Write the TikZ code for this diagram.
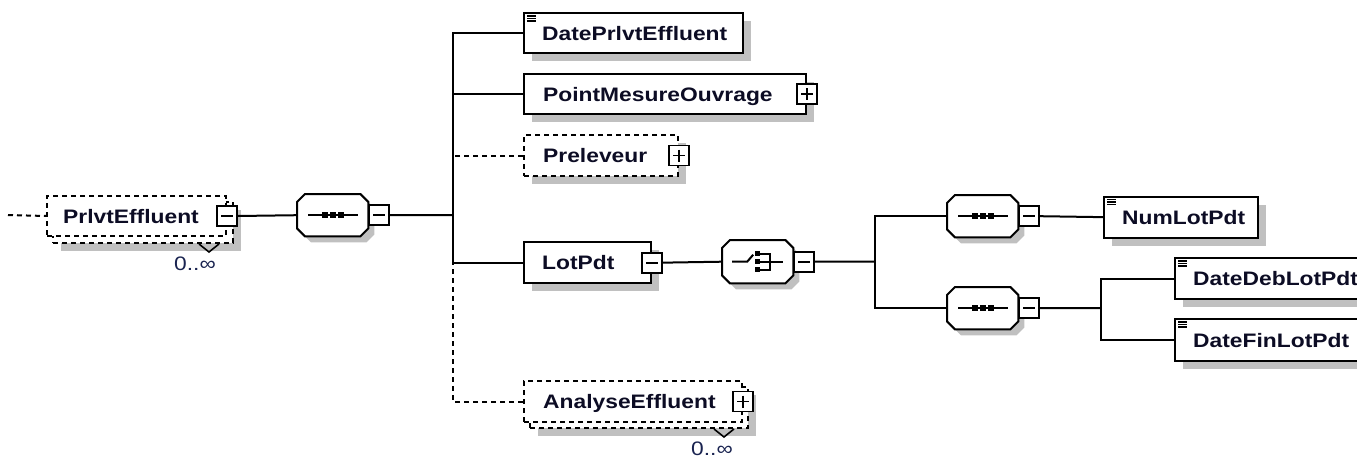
\documentclass[tikz,border=0pt]{standalone}
\usepackage{fontspec}
\newfontfamily\lbl[FakeStretch=1.17]{Liberation Sans}
\usetikzlibrary{calc,shadows}
\definecolor{shadowgray}{RGB}{192,192,192}
\definecolor{txt}{RGB}{12,12,36}
\definecolor{occ}{RGB}{25,35,80}
\newcommand\xoct[1]{%
  \fill[shadowgray] ($(#1.north west)+(14,6)$) -- ($(#1.north east)+(-2,6)$) -- ($(#1.north east)+(6,14)$) -- ($(#1.south east)+(6,-2)$) -- ($(#1.south east)+(-2,6)$) -- ($(#1.south west)+(14,6)$) -- ($(#1.south west)+(6,-2)$) -- ($(#1.north west)+(6,14)$) -- cycle;
  \draw[octo] ($(#1.north west)+(8,0)$) -- ($(#1.north east)+(-8,0)$) -- ($(#1.north east)+(0,8)$) -- ($(#1.south east)+(0,-8)$) -- ($(#1.south east)+(-8,0)$) -- ($(#1.south west)+(8,0)$) -- ($(#1.south west)+(0,-8)$) -- ($(#1.north west)+(0,8)$) -- cycle;}
\newcommand\xseq[1]{%
  \draw[conn] ($(#1.west)+(11,0)$) -- ($(#1.east)+(-10,0)$);
  \fill ($(#1.center)+(-11,-3)$) rectangle ++(6,6);
  \fill ($(#1.center)+(-3,-3)$) rectangle ++(6,6);
  \fill ($(#1.center)+(5,-3)$) rectangle ++(6,6);}
\newcommand\xcho[1]{%
  \draw[conn] ($(#1.center)+(-25.5,0)$) -- ($(#1.center)+(-10.5,0)$) -- ($(#1.center)+(-4.5,-7)$);
  \fill ($(#1.center)+(-3,-10.5)$) rectangle ++(5,5);
  \fill ($(#1.center)+(-3,-2.5)$) rectangle ++(5,5);
  \fill ($(#1.center)+(-3,5.5)$) rectangle ++(5,5);
  \draw[conn] ($(#1.center)+(2,-8)$) -- ($(#1.center)+(12.5,-8)$) -- ($(#1.center)+(12.5,8)$) -- ($(#1.center)+(2,8)$);
  \draw[conn] ($(#1.center)+(2,0)$) -- ($(#1.center)+(25.5,0)$);}
\newcommand\xdoc[1]{%
  \draw[line width=1.3pt] ($(#1.north west)+(4,4)$) -- ++(9,0);
  \draw[line width=1.3pt] ($(#1.north west)+(4,6.5)$) -- ++(9,0);
  \draw[line width=1.3pt] ($(#1.north west)+(4,9)$) -- ++(9,0);}
\begin{document}
\begin{tikzpicture}[x=1pt,y=-1pt,
  conn/.style={line width=2pt},
  dconn/.style={line width=2pt, dash pattern=on 5pt off 4pt},
  octo/.style={line width=2pt, fill=white},
  boxshadow/.style={general shadow={fill=shadowgray, shadow xshift=8pt, shadow yshift=-8pt}},
  elembox/.style={draw, line width=2.3pt, fill=white, anchor=north west, inner sep=0pt, boxshadow},
  optbox/.style={draw, line width=2pt, dash pattern=on 5pt off 4pt, fill=white, anchor=north west, inner sep=0pt},
  groupbase/.style={draw=none, anchor=north west, inner sep=0pt, minimum width=71pt, minimum height=42pt},
  pmbox/.style={draw, line width=1.8pt, fill=white, inner sep=0pt, minimum width=20pt, minimum height=20pt},
  minusbox/.style={pmbox, path picture={\draw[line width=1.8pt] ([xshift=4pt]path picture bounding box.west) -- ([xshift=-4pt]path picture bounding box.east);}},
  plusbox/.style={pmbox, path picture={\draw[line width=1.8pt] ([xshift=4pt]path picture bounding box.west) -- ([xshift=-4pt]path picture bounding box.east); \draw[line width=1.8pt] ([yshift=-4pt]path picture bounding box.north) -- ([yshift=4pt]path picture bounding box.south);}},
  lbltext/.style={font=\lbl\bfseries\fontsize{19.5}{22}\selectfont, text=txt, inner sep=0pt, anchor=west, text height=14pt, text depth=0pt},
  occtext/.style={font=\lbl\fontsize{19.5}{22}\selectfont, text=occ, inner sep=0pt, anchor=base},
  vnotch/.style={line width=1.6pt}
]
\useasboundingbox (0,0) rectangle (1357,458);
\clip (0,0) rectangle (1357,458);

% ---- PrlvtEffluent (0..inf, optional)
\node[optbox, boxshadow, minimum width=180pt, minimum height=41pt] (prlvB) at (52,201) {};
\node[optbox, minimum width=179pt, minimum height=40pt] (prlv) at (46,195) {};
\draw[vnotch] ($(prlvB.south east)+(-35,0)$) -- ++(10,8) -- ++(10,-8);
\node[lbltext] (prlvT) at ($(prlv.west)+(17,0)$) {PrlvtEffluent};
\node[minusbox] (prlvM) at (prlv.east) {};
\node[occtext] (prlvO) at (195,270) {0..∞};
\coordinate (in) at (8,215);
\draw[dconn] (in) -- (prlv.west);

% ---- sequence 1
\node[groupbase] (s1) at (297,194) {};
\xoct{s1}
\xseq{s1}
\node[minusbox, anchor=west] (s1M) at (s1.east) {};
\draw[conn] (prlvM.east) -- (s1.west);

% ---- children of sequence 1
\node[elembox, minimum width=219pt, minimum height=40pt] (date) at (523,12) {};
\xdoc{date}
\node[lbltext] (dateT) at ($(date.west)+(19,0)$) {DatePrlvtEffluent};

\node[elembox, minimum width=282pt, minimum height=40pt] (pmo) at (523,73) {};
\node[lbltext] (pmoT) at ($(pmo.west)+(20,0)$) {PointMesureOuvrage};
\node[plusbox] (pmoP) at (pmo.east) {};

\node[optbox, boxshadow, minimum width=154pt, minimum height=41pt] (prel) at (523,134) {};
\node[lbltext] (prelT) at ($(prel.west)+(20,0)$) {Preleveur};
\node[plusbox] (prelP) at (prel.east) {};

\node[elembox, minimum width=127pt, minimum height=41pt] (lot) at (523,241) {};
\node[lbltext] (lotT) at ($(lot.west)+(19,0)$) {LotPdt};
\node[minusbox] (lotM) at (lot.east) {};

\node[optbox, boxshadow, minimum width=218pt, minimum height=41pt] (anaB) at (529,386) {};
\node[optbox, minimum width=218pt, minimum height=41pt] (ana) at (523,380) {};
\draw[vnotch] ($(anaB.south east)+(-35,0)$) -- ++(10,8) -- ++(10,-8);
\node[lbltext] (anaT) at ($(ana.west)+(20,0)$) {AnalyseEffluent};
\node[plusbox] (anaP) at (ana.east) {};
\node[occtext] (anaO) at (712,455) {0..∞};

\coordinate (bus1) at (453,215);
\draw[conn] (s1M.east) -- (bus1);
\draw[conn] (date.west) -| (bus1);
\draw[conn] (pmo.west) -- (pmo.west -| bus1);
\draw[dconn] (prel.west) -- (prel.west -| bus1);
\draw[conn] (lot.west) -| (bus1);
\draw[dconn] (ana.west) -| (lot.west -| bus1);

% ---- choice
\node[groupbase, minimum height=43pt] (c1) at (722,240) {};
\xoct{c1}
\xcho{c1}
\node[minusbox, anchor=west] (c1M) at (c1.east) {};
\draw[conn] (lotM.east) -- (c1.west);

% ---- sequences 2 and 3
\node[groupbase] (s2) at (947,195) {};
\xoct{s2}
\xseq{s2}
\node[minusbox, anchor=west] (s2M) at (s2.east) {};

\node[groupbase] (s3) at (947,287) {};
\xoct{s3}
\xseq{s3}
\node[minusbox, anchor=west] (s3M) at (s3.east) {};

\coordinate (bus2) at (875,261.5);
\draw[conn] (c1M.east) -- (bus2);
\draw[conn] (s2.west) -| (bus2);
\draw[conn] (s3.west) -| (bus2);

% ---- leaves
\node[elembox, minimum width=154pt, minimum height=41pt] (num) at (1103,195.5) {};
\xdoc{num}
\node[lbltext] (numT) at ($(num.west)+(19,0)$) {NumLotPdt};
\draw[conn] (s2M.east) -- (num.west);

\node[elembox, minimum width=230pt, minimum height=41pt] (deb) at (1174,257) {};
\xdoc{deb}
\node[lbltext] (debT) at ($(deb.west)+(19,0)$) {DateDebLotPdt};

\node[elembox, minimum width=230pt, minimum height=42pt] (fin) at (1174,318) {};
\xdoc{fin}
\node[lbltext] (finT) at ($(fin.west)+(19,0)$) {DateFinLotPdt};

\coordinate (bus3) at (1101,308);
\draw[conn] (s3M.east) -- (bus3);
\draw[conn] (deb.west) -| (bus3);
\draw[conn] (fin.west) -| (bus3);
\end{tikzpicture}
\end{document}
